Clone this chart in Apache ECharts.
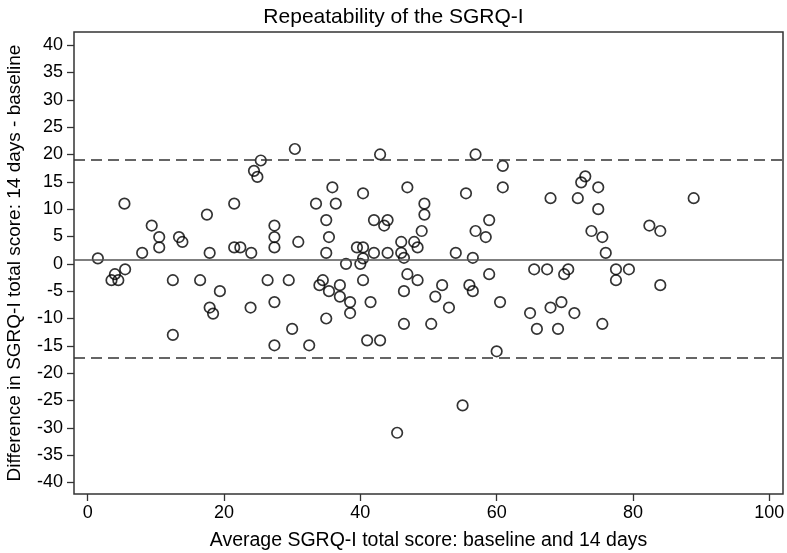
<!DOCTYPE html>
<html>
<head>
<meta charset="utf-8">
<script src="https://cdn.jsdelivr.net/npm/echarts@6/dist/echarts.min.js"></script>
<style>html,body{margin:0;padding:0;background:#fff}#c{width:787px;height:553px}</style>
</head>
<body>
<div id="c"></div>
<script>
// Average score (x) and difference (y)
const avgScore = [1.5,4.0,3.5,4.5,5.5,5.4,8.0,9.4,10.5,10.5,12.5,12.5,13.4,13.9,16.5,17.5,17.9,17.9,18.4,19.4,21.5,21.5,22.4,23.9,24.0,24.4,24.9,25.4,26.4,27.4,27.4,27.4,27.4,27.4,29.5,30.0,30.4,30.9,32.5,33.5,34.0,34.5,35.0,35.0,35.0,35.4,35.4,35.9,36.4,37.0,37.0,37.9,38.5,38.5,39.5,40.0,40.4,40.4,40.4,40.4,41.0,41.5,42.0,42.0,42.9,42.9,43.5,44.0,44.0,45.4,46.0,46.0,46.4,46.4,46.4,46.9,46.9,47.9,48.4,48.4,49.0,49.4,49.4,50.4,51.0,52.0,53.0,54.0,55.0,55.5,56.0,56.5,56.5,56.9,56.9,58.4,58.9,58.9,60.0,60.5,60.9,60.9,64.9,65.5,65.9,67.4,67.9,67.9,69.0,69.5,69.9,70.5,71.4,71.9,72.4,73.0,73.9,74.9,74.9,75.5,75.5,76.0,77.5,77.5,79.4,82.4,84.0,84.0,88.9];
const diffScore = [1.0,-1.9,-3.0,-3.0,-1.0,11.0,2.0,7.0,4.9,3.0,-3.0,-13.0,4.9,4.0,-3.0,9.0,2.0,-8.0,-9.1,-5.0,11.0,3.0,3.0,-8.0,2.0,17.0,15.9,18.9,-3.0,7.0,4.9,3.0,-7.0,-14.9,-3.0,-11.9,21.0,4.0,-14.9,11.0,-3.9,-3.0,8.0,2.0,-10.0,4.9,-5.0,14.0,11.0,-3.9,-6.0,0.0,-7.0,-9.0,3.0,0.0,12.9,3.0,1.0,-3.0,-14.0,-7.0,8.0,2.0,20.0,-14.0,7.0,8.0,2.0,-30.9,4.0,2.0,1.1,-5.0,-11.0,14.0,-1.9,4.0,3.0,-3.0,6.0,9.0,11.0,-11.0,-6.0,-3.9,-8.0,2.0,-25.9,12.9,-3.9,1.1,-5.0,20.0,6.0,4.9,8.0,-1.9,-16.0,-7.0,17.9,14.0,-9.0,-1.0,-11.9,-1.0,12.0,-8.0,-11.9,-7.0,-1.9,-1.0,-9.0,12.0,14.9,16.0,6.0,14.0,10.0,4.9,-11.0,2.0,-1.0,-3.0,-1.0,7.0,6.0,-3.9,12.0];
const meanDiff = 0.8;
const upperLoA = 19.0;
const lowerLoA = -17.2;
const xTicks = [0,20,40,60,80,100];
const yTicks = [40,35,30,25,20,15,10,5,0,-5,-10,-15,-20,-25,-30,-35,-40];

const points = avgScore.map((x,i)=>[x, diffScore[i]]);
const font = '"Liberation Sans", Arial, sans-serif';
const chart = echarts.init(document.getElementById('c'), null, {renderer:'canvas'});
chart.setOption({
  animation:false,
  backgroundColor:'#fff',
  title:{text:'Repeatability of the SGRQ-I', left:'center', top:2,
    textStyle:{fontFamily:font, fontSize:21, fontWeight:'normal', color:'#000'}},
  grid:{left:74, right:4, top:32, bottom:59, containLabel:false, outerBoundsMode:'none',
    show:true, borderColor:'#333', borderWidth:1.5, backgroundColor:'transparent'},
  xAxis:{type:'value', min:-2, max:102, position:'bottom',
    name:'Average SGRQ-I total score: baseline and 14 days', nameLocation:'middle', nameGap:37,
    nameTextStyle:{fontFamily:font, fontSize:19.5, color:'#000'},
    axisLine:{show:false, onZero:false}, splitLine:{show:false},
    axisTick:{show:true, inside:false, length:7, customValues:xTicks, lineStyle:{color:'#333', width:1.3}},
    axisLabel:{customValues:xTicks, margin:10, fontFamily:font, fontSize:18, color:'#000'}},
  yAxis:{type:'value', min:-42.1, max:42.4, position:'left',
    name:'Difference in SGRQ-I total score: 14 days - baseline', nameLocation:'middle', nameGap:50,
    nameTextStyle:{fontFamily:font, fontSize:19, color:'#000'},
    axisLine:{show:false, onZero:false}, splitLine:{show:false},
    axisTick:{show:true, inside:false, length:7, customValues:yTicks, lineStyle:{color:'#333', width:1.3}},
    axisLabel:{customValues:yTicks, margin:11, fontFamily:font, fontSize:18, color:'#000'}},
  series:[{
    type:'scatter', data:points, symbol:'circle', symbolSize:10.5,
    itemStyle:{color:'rgba(0,0,0,0)', borderColor:'#000', borderWidth:1.7},
    markLine:{silent:true, symbol:['none','none'], label:{show:false},
      data:[
        {yAxis:meanDiff, lineStyle:{type:'solid', color:'#555', width:1.6}},
        {yAxis:upperLoA, lineStyle:{type:[11,6], color:'#333', width:1.6}},
        {yAxis:lowerLoA, lineStyle:{type:[11,6], color:'#333', width:1.6}}
      ]}
  }]
});
</script>
</body>
</html>
